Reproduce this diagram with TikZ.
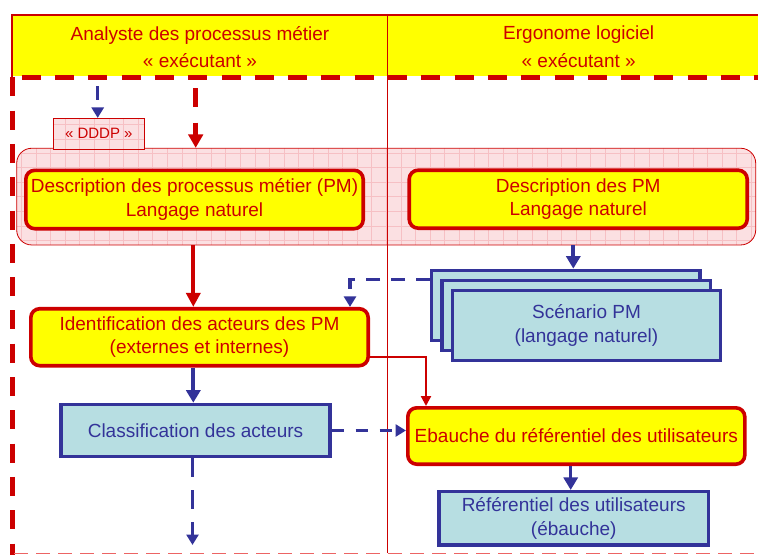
\documentclass[tikz,border=0pt]{standalone}
\usepackage{fontspec}
\setmainfont{Liberation Sans}
\usepackage{tikz}
\usepackage{xcolor}
\usetikzlibrary{arrows.meta,calc,positioning}
\definecolor{bpRed}{RGB}{204,0,0}
\definecolor{bpBlue}{RGB}{51,51,153}
\definecolor{bpYellow}{RGB}{255,255,0}
\definecolor{bpTeal}{RGB}{183,222,226}
\definecolor{bpPink}{RGB}{251,224,226}
\definecolor{bpGrid}{RGB}{246,192,196}
\definecolor{bpDash}{RGB}{236,100,100}
\tikzset{
  boxfont/.style={font=\fontsize{19}{23.5}\selectfont},
  pmbox/.style={rectangle,rounded corners=9pt,draw=bpRed,fill=bpYellow,
    line width=3.6pt,text=bpRed,align=center,boxfont,inner sep=0pt},
  docbox/.style={rectangle,draw=bpBlue,fill=bpTeal,line width=3.4pt,
    text=bpBlue,align=center,boxfont,inner sep=0pt},
  gridfill/.style={rectangle,fill=bpPink,draw=bpRed,line width=0.8pt,
    path picture={\draw[bpGrid,line width=0.5pt]
      (path picture bounding box.south west) grid[step=14.6pt]
      (path picture bounding box.north east);}},
  lanetitle/.style={text=bpRed,align=center,font=\fontsize{19}{27.7}\selectfont},
  redflow/.style={draw=bpRed,line width=4pt,-{Triangle[length=14pt,width=14pt]}},
  blueflow/.style={draw=bpBlue,line width=4pt,-{Triangle[length=12.5pt,width=14pt]}},
  reddash/.style={draw=bpRed,line width=4.5pt,dash pattern=on 19pt off 15.7pt,
    -{Triangle[length=13.5pt,width=14.5pt]}},
  bluedash/.style={draw=bpBlue,line width=3.4pt,dash pattern=on 14pt off 11pt,
    -{Triangle[length=10.5pt,width=12pt]}},
  redline/.style={draw=bpRed,line width=2.2pt,-{Triangle[length=10pt,width=10pt]}}
}

\begin{document}
\begin{tikzpicture}[x=1pt,y=-1pt]
  \useasboundingbox (0,0) rectangle (758,555);
  \fill[bpYellow] (12,15) rectangle (758,76);
  \draw[bpRed,line width=1.5pt] (12,77) -- (12,15) -- (758,15);
  \node[lanetitle] (hdrA) at (200,47) {Analyste des processus métier\\« exécutant »};
  \node[lanetitle] (hdrB) at (578.7,47) {Ergonome logiciel\\« exécutant »};
  \draw[bpRed,line width=5pt,dash pattern=on 19pt off 14.3pt] (21.7,77.5) -- (758,77.5);
  \draw[bpRed,line width=4.5pt,dash pattern=on 19pt off 14.3pt] (12.5,77.3) -- (12.5,555);
  \draw[bpDash,line width=1.6pt,dash pattern=on 14pt off 8pt] (14,553.3) -- (758,553.3);

  \node[gridfill,rounded corners=15pt,minimum width=739pt,minimum height=96.7pt]
    (band) at (386.2,196.6) {};
  \node[gridfill,minimum width=91pt,minimum height=30.7pt,text=bpRed,
    font=\fontsize{15}{18}\selectfont] (dddp) at (98.8,133.7) {« DDDP »};
  \draw[bpRed,line width=1.7pt] (387.6,15) -- (387.6,553);

  \node[pmbox,minimum width=337.4pt,minimum height=58.4pt] (desc1) at (194.5,199.5)
    {Description des processus métier (PM)\\Langage naturel};
  \node[pmbox,minimum width=338pt,minimum height=58pt] (desc2) at (578.2,199.2)
    {Description des PM\\Langage naturel};
  \node[pmbox,minimum width=337.4pt,minimum height=57pt] (ident) at (199.5,337.2)
    {Identification des acteurs des PM\\(externes et internes)};
  \node[docbox,minimum width=269pt,minimum height=52.2pt] (classif) at (195.5,430.5)
    {Classification des acteurs};
  \node[docbox,minimum width=268.2pt,minimum height=69.9pt] (scen3) at (565.8,305.3) {};
  \node[docbox,minimum width=268.2pt,minimum height=69.9pt] (scen2) at (576.2,315.3) {};
  \node[docbox,minimum width=268.2pt,minimum height=69.9pt] (scen1) at (586.5,325.3)
    {Scénario PM\\(langage naturel)};
  \node[pmbox,minimum width=337pt,minimum height=56.4pt] (ebauche) at (576.3,436)
    {Ebauche du référentiel des utilisateurs};
  \node[docbox,minimum width=269.3pt,minimum height=53.3pt] (ref) at (573.7,518.3)
    {Référentiel des utilisateurs\\(ébauche)};

  \coordinate (ddIn) at (97.7,86);
  \coordinate (pmIn) at (195.7,88);
  \coordinate (clOut) at (192.5,545);
  \draw[bluedash] (ddIn) -- (ddIn |- dddp.north);
  \draw[reddash] (pmIn) -- (pmIn |- band.north);
  \draw[redflow] ([xshift=-1.2pt]desc1.south |- band.south) -- ([xshift=-1.2pt]desc1.south |- ident.north);
  \draw[blueflow] ([xshift=-4.9pt]desc2.south |- band.south) -- ([xshift=-4.9pt]desc2.south |- scen3.north);
  \draw[bluedash] ([yshift=-11pt]scen3.north west) -| ([xshift=150.5pt]ident.north);
  \draw[redline] ([yshift=-19.5pt]ident.east) -| ([xshift=-150.3pt]ebauche.north);
  \draw[blueflow] ([xshift=-6.2pt]ident.south) -- ([xshift=-6.2pt]ident.south |- classif.north);
  \draw[bluedash,dash pattern=on 19pt off 13pt] (classif.south -| clOut) -- (clOut);
  \draw[bluedash,dash pattern=on 12pt off 12pt] (classif.east) -- (classif.east -| ebauche.west);
  \draw[blueflow,line width=3pt] ([xshift=-3pt]ref.north |- ebauche.south) -- ([xshift=-3pt]ref.north);
\end{tikzpicture}
\end{document}
